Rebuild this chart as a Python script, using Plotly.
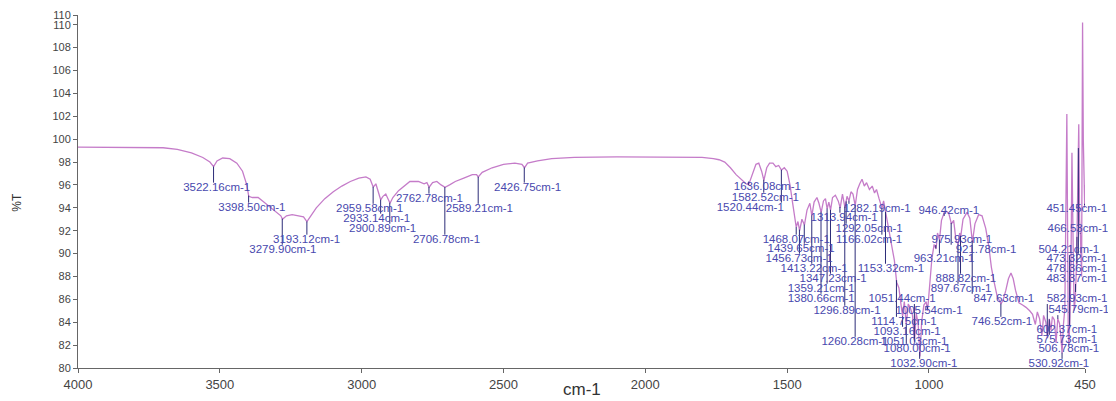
import numpy as np
import plotly.graph_objects as go

# ---------------- spectrum ----------------
wavenumber = [
    4000, 3900, 3800, 3700, 3650, 3600, 3560, 3535, 3522, 3510, 3490, 3465, 3440, 3420, 3405,
    3398, 3385, 3365, 3345, 3320, 3300, 3285, 3279, 3265, 3245, 3225, 3205, 3193, 3180, 3160,
    3130, 3100, 3070, 3040, 3010, 2985, 2970, 2959, 2950, 2940, 2933, 2925, 2915, 2900, 2890,
    2870, 2850, 2830, 2800, 2780, 2770, 2762, 2750, 2735, 2720, 2706, 2690, 2670, 2640, 2610,
    2595, 2589, 2575, 2540, 2500, 2460, 2435, 2426, 2415, 2380, 2330, 2250, 2100, 1900, 1800,
    1760, 1740, 1720, 1700, 1680, 1660, 1645, 1636, 1625, 1610, 1600, 1590, 1582, 1572, 1562,
    1550, 1540, 1530, 1520, 1510, 1500, 1490, 1480, 1472, 1468, 1462, 1456, 1448, 1439, 1430,
    1420, 1413, 1405, 1395, 1388, 1380, 1372, 1365, 1359, 1353, 1347, 1340, 1330, 1320, 1313,
    1305, 1296, 1289, 1282, 1275, 1268, 1260, 1252, 1244, 1236, 1228, 1220, 1210, 1200, 1192,
    1185, 1176, 1166, 1160, 1153, 1146, 1138, 1130, 1122, 1114, 1106, 1100, 1093, 1087, 1080,
    1073, 1065, 1058, 1051, 1045, 1038, 1032, 1026, 1018, 1010, 1005, 998, 990, 982, 975,
    970, 963, 956, 946, 938, 930, 921, 913, 905, 897, 892, 888, 880, 866, 856,
    847, 838, 825, 813, 800, 789, 780, 771, 760, 746, 738, 729, 720, 711, 703,
    695, 683, 670, 658, 645, 635, 625, 618, 610, 602, 596, 588, 582, 576, 570,
    565, 558, 552, 546, 540, 535, 531, 526, 521, 514, 511, 509, 506.8, 503, 499,
    496, 492, 488, 484, 480, 476, 472, 469, 466, 462, 458.6, 456, 453, 451, 450,
]
transmittance = [
    99.3, 99.3, 99.3, 99.25, 99.1, 98.8, 98.4, 98.0, 97.6, 98.1, 98.35, 98.3, 97.9, 97.2, 96.0,
    95.0, 94.9, 94.9, 94.5, 94.0, 93.6, 93.3, 93.0, 93.3, 93.4, 93.3, 93.2, 92.8, 93.3, 94.0,
    94.8, 95.4, 95.9, 96.3, 96.6, 96.7, 96.5, 95.8, 96.1, 95.3, 94.7, 95.0, 95.2, 94.4, 94.9,
    95.5, 95.9, 96.3, 96.3, 96.1, 96.2, 95.8, 96.2, 96.3, 96.0, 95.8, 96.0, 96.3, 96.6, 96.9,
    96.9, 96.7, 97.1, 97.5, 97.8, 97.9, 97.8, 97.5, 97.9, 98.1, 98.3, 98.4, 98.45, 98.45, 98.4,
    98.3, 98.2, 98.0, 97.5, 96.9, 96.4, 96.1, 96.0, 96.8, 97.8, 97.9, 97.2, 96.4, 97.5, 97.9,
    97.9, 97.6, 97.7, 97.3, 97.5, 97.2, 96.0, 94.3, 93.0, 92.3, 92.8, 92.0, 93.0, 92.5, 93.8,
    94.4, 93.3, 94.5, 94.9, 94.4, 93.6, 94.6, 94.8, 93.9, 94.5, 93.8, 94.9, 95.1, 94.6, 94.0,
    95.2, 94.0, 95.0, 94.6, 95.4, 95.2, 94.2, 95.6, 96.1, 96.5, 95.9, 96.2, 95.6, 95.9, 95.3,
    95.6, 94.8, 94.0, 94.6, 93.6, 92.6, 91.3, 90.2, 89.4, 87.5, 87.0, 85.8, 84.5, 85.8, 83.8,
    85.6, 85.2, 84.6, 82.3, 84.8, 83.8, 81.0, 84.0, 85.5, 85.8, 85.0, 86.9, 89.5, 90.8, 90.4,
    91.8, 91.2, 92.9, 93.6, 93.7, 93.5, 92.6, 92.9, 91.2, 90.8, 91.8, 91.5, 93.0, 93.6, 93.1,
    91.0, 92.6, 93.4, 93.3, 92.2, 90.6, 88.8, 87.6, 86.3, 85.6, 86.0, 86.8, 87.8, 88.3, 87.8,
    86.8, 85.7, 85.5, 85.3, 85.0, 84.7, 83.8, 84.9, 84.3, 82.8, 84.6, 84.0, 82.6, 84.3, 83.3,
    84.5, 84.2, 82.2, 84.3, 83.9, 82.8, 81.3, 83.8, 85.2, 102.2, 85.5, 83.0, 82.0, 84.5, 90.0,
    98.8, 91.0, 85.0, 86.2, 89.0, 95.0, 101.3, 93.0, 91.5, 88.0, 110.2, 100.0, 95.0, 94.0, 96.0,
]

# ---------------- peak labels ----------------
peak_wavenumbers = [
    3522.16, 3398.50, 3279.90, 3193.12, 2959.58, 2933.14, 2900.89, 2762.78, 2706.78, 2589.21, 2426.75,
    1636.08, 1582.52, 1520.44, 1468.07, 1439.65, 1456.73, 1413.22, 1347.23, 1359.21, 1380.66, 1296.89,
    1313.94, 1282.19, 1292.05, 1166.02, 1153.32, 1051.44, 1005.54, 1114.75, 1093.16, 1260.28, 1051.03,
    1080.00, 1032.90,
    946.42, 975.93, 921.78, 963.21, 888.82, 897.67, 847.63, 746.52,
    451.45, 466.53, 504.21, 473.32, 478.36, 483.37, 582.93, 545.79, 602.37, 575.73, 506.78, 530.92,
]
peak_names = [
    "3522.16cm-1", "3398.50cm-1", "3279.90cm-1", "3193.12cm-1", "2959.58cm-1", "2933.14cm-1",
    "2900.89cm-1", "2762.78cm-1", "2706.78cm-1", "2589.21cm-1", "2426.75cm-1",
    "1636.08cm-1", "1582.52cm-1", "1520.44cm-1", "1468.07cm-1", "1439.65cm-1", "1456.73cm-1",
    "1413.22cm-1", "1347.23cm-1", "1359.21cm-1", "1380.66cm-1", "1296.89cm-1",
    "1313.94cm-1", "1282.19cm-1", "1292.05cm-1", "1166.02cm-1", "1153.32cm-1", "1051.44cm-1",
    "1005.54cm-1", "1114.75cm-1", "1093.16cm-1", "1260.28cm-1", "1051.03cm-1",
    "1080.00cm-1", "1032.90cm-1",
    "946.42cm-1", "975.93cm-1", "921.78cm-1", "963.21cm-1", "888.82cm-1", "897.67cm-1",
    "847.63cm-1", "746.52cm-1",
    "451.45cm-1", "466.53cm-1", "504.21cm-1", "473.32cm-1", "478.36cm-1", "483.37cm-1",
    "582.93cm-1", "545.79cm-1", "602.37cm-1", "575.73cm-1", "506.78cm-1", "530.92cm-1",
]
# %T level at which each label is printed
label_levels = [
    95.75, 94.0, 90.32, 91.2, 93.9, 93.04, 92.16, 94.79, 91.2, 93.9, 95.75,
    95.84, 94.87, 94.0, 91.2, 90.41, 89.54, 88.66, 87.79, 86.91, 86.04, 84.99,
    93.12, 93.9, 92.16, 91.2, 88.66, 86.04, 84.99, 84.02, 83.15, 82.27, 82.27,
    81.66, 80.35,
    93.74, 91.2, 90.32, 89.54, 87.79, 86.91, 86.04, 84.02,
    93.9, 92.16, 90.32, 89.54, 88.66, 87.79, 86.04, 85.07, 83.32, 82.45, 81.66, 80.35,
]
# wavenumber under the centre of each label
label_centres = [
    3511, 3387, 3278, 3194, 2972, 2947, 2926, 2761, 2701, 2585, 2415,
    1570, 1577, 1630, 1468, 1451, 1458, 1405, 1338, 1380, 1380, 1289,
    1299, 1183, 1211, 1211, 1134, 1095, 1000, 1088, 1077, 1261, 1053,
    1042, 1018,
    930, 884, 799, 947, 870, 887, 736, 743,
    479, 475, 507, 479, 479, 479, 478, 472, 514, 514, 507, 542,
]

x_ticks = [4000, 3500, 3000, 2500, 2000, 1500, 1000, 450]
y_ticks = [80, 82, 84, 86, 88, 90, 92, 94, 96, 98, 100, 102, 104, 106, 108, 110, 110.85]
y_tick_text = ["80", "82", "84", "86", "88", "90", "92", "94", "96", "98", "100",
               "102", "104", "106", "108", "110", "110"]

fig = go.Figure()

fig.add_trace(go.Scatter(
    x=wavenumber, y=transmittance, mode="lines",
    line=dict(color="#c57cc9", width=1.3), hoverinfo="skip", showlegend=False,
))

wn_inc = np.array(wavenumber[::-1], dtype=float)
tr_inc = np.array(transmittance[::-1], dtype=float)
lx, ly = [], []
for w, lv in zip(peak_wavenumbers, label_levels):
    t = float(np.interp(w, wn_inc, tr_inc))
    end = lv + 0.45 if lv < t else lv - 0.45
    lx += [w, w, None]
    ly += [t, end, None]
fig.add_trace(go.Scatter(
    x=lx, y=ly, mode="lines", line=dict(color="#2c2c78", width=1),
    hoverinfo="skip", showlegend=False,
))

fig.add_trace(go.Scatter(
    x=label_centres, y=label_levels, mode="text", text=peak_names,
    textposition="middle center",
    textfont=dict(family="Liberation Sans, Arial, sans-serif", size=11.5, color="#4848ae"),
    cliponaxis=False, hoverinfo="skip", showlegend=False,
))

fam = "Liberation Sans, Arial, sans-serif"
fig.update_layout(
    width=1108, height=393,
    margin=dict(l=70, r=31, t=7, b=33, autoexpand=False),
    paper_bgcolor="white", plot_bgcolor="white",
    xaxis=dict(
        range=[4000, 450], tickmode="array", tickvals=x_ticks,
        showline=True, linecolor="#666666", linewidth=1,
        ticks="outside", ticklen=4, tickcolor="#666666",
        showgrid=False, zeroline=False,
        tickfont=dict(family=fam, size=13, color="#444444"),
    ),
    yaxis=dict(
        range=[80, 110.85], tickmode="array", tickvals=y_ticks, ticktext=y_tick_text,
        showline=True, linecolor="#666666", linewidth=1,
        ticks="outside", ticklen=4, tickcolor="#666666",
        showgrid=False, zeroline=False,
        tickfont=dict(family=fam, size=11, color="#444444"),
    ),
    annotations=[
        dict(text="cm-1", xref="paper", yref="paper", x=0.5, y=-0.06,
             xanchor="center", yanchor="middle", showarrow=False,
             font=dict(family=fam, size=17, color="#333333")),
        dict(text="%T", xref="paper", yref="paper", x=-0.06, y=0.47,
             xanchor="center", yanchor="middle", showarrow=False, textangle=-90,
             font=dict(family=fam, size=12, color="#333333")),
    ],
)

fig.write_html("out.html")
